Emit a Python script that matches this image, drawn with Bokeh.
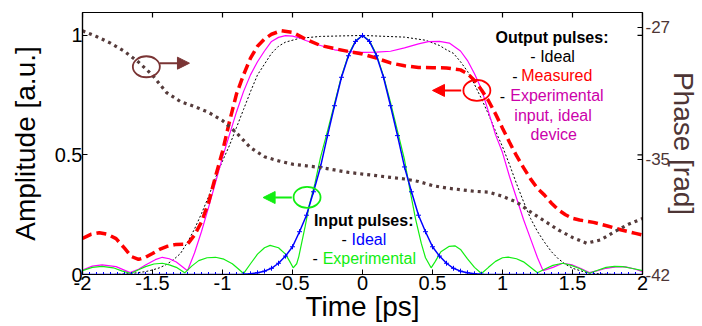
import math
from bokeh.plotting import figure
from bokeh.models import Range1d, LinearAxis, FixedTicker, Label, Arrow, NormalHead
from bokeh.embed import file_html
from bokeh.resources import INLINE

FONT = "Liberation Sans"

# ---------------- data ----------------
# ideal input pulse, sampled every 0.05 ps from -2 to 2
input_t = [round(-2 + 0.05 * i, 2) for i in range(81)]
input_ideal = [0.0] * 23 + [
    0.001, 0.003, 0.007, 0.014, 0.026, 0.047, 0.077, 0.116, 0.179, 0.248,
    0.346, 0.45, 0.581, 0.706, 0.825, 0.915, 0.975, 1.0,
    0.975, 0.915, 0.825, 0.706, 0.581, 0.45, 0.346, 0.248, 0.179, 0.116,
    0.077, 0.047, 0.026, 0.014, 0.007, 0.003, 0.001] + [0.0] * 23

# experimental input pulse
exp_in_t = [-2.0, -1.93, -1.86, -1.78, -1.72, -1.655, -1.6, -1.55, -1.49, -1.43,
            -1.38, -1.33, -1.27, -1.22, -1.17, -1.11, -1.05, -0.99, -0.93, -0.89,
            -0.85, -0.8, -0.75, -0.7, -0.66, -0.6, -0.55, -0.52, -0.495, -0.47,
            -0.455, -0.41, -0.38, -0.34, -0.3, -0.25, -0.2, -0.15, -0.1, -0.05,
            0.0, 0.05, 0.1, 0.15, 0.2, 0.25, 0.3, 0.34, 0.38, 0.42,
            0.45, 0.49, 0.52, 0.56, 0.62, 0.66, 0.7, 0.75, 0.8, 0.85,
            0.9, 0.95, 1.0, 1.04, 1.1, 1.15, 1.2, 1.25, 1.3, 1.36,
            1.43, 1.49, 1.55, 1.62, 1.68, 1.74, 1.8, 1.86, 1.93, 2.0]
exp_in_amp = [0.016, 0.03, 0.034, 0.028, 0.015, 0.004, 0.02, 0.033, 0.044, 0.047,
              0.04, 0.03, 0.007, 0.035, 0.058, 0.07, 0.072, 0.064, 0.045, 0.025,
              0.004, 0.045, 0.085, 0.112, 0.122, 0.112, 0.085, 0.055, 0.028, 0.045,
              0.075, 0.2, 0.29, 0.38, 0.49, 0.6, 0.715, 0.83, 0.92, 0.978,
              1.0, 0.978, 0.92, 0.83, 0.72, 0.6, 0.48, 0.35, 0.23, 0.13,
              0.07, 0.028, 0.055, 0.095, 0.118, 0.12, 0.105, 0.065, 0.03, 0.004,
              0.03, 0.055, 0.07, 0.073, 0.066, 0.053, 0.03, 0.007, 0.022, 0.038,
              0.047, 0.038, 0.025, 0.005, 0.018, 0.03, 0.034, 0.033, 0.025, 0.016]

# ideal output pulse
out_ideal_t = [-2.0, -1.8, -1.7, -1.64, -1.55, -1.5, -1.45, -1.4, -1.35, -1.3,
               -1.25, -1.2, -1.15, -1.1, -1.05, -1.0, -0.95, -0.9, -0.85, -0.8,
               -0.75, -0.7, -0.65, -0.6, -0.55, -0.45, -0.3, 0.0, 0.3, 0.45,
               0.55, 0.6, 0.65, 0.7, 0.75, 0.8, 0.85, 0.9, 0.95, 1.0,
               1.05, 1.1, 1.15, 1.2, 1.25, 1.3, 1.35, 1.4, 1.45, 1.5,
               1.6, 1.7, 1.8, 2.0]
out_ideal_amp = [0.0, 0.0, 0.002, 0.005, 0.012, 0.019, 0.028, 0.042, 0.062, 0.088,
                 0.135, 0.19, 0.255, 0.325, 0.405, 0.475, 0.54, 0.615, 0.69, 0.765,
                 0.835, 0.88, 0.925, 0.955, 0.972, 0.988, 0.996, 1.0, 0.993, 0.98,
                 0.958, 0.94, 0.925, 0.89, 0.85, 0.795, 0.735, 0.67, 0.6, 0.535,
                 0.46, 0.38, 0.305, 0.235, 0.18, 0.135, 0.095, 0.065, 0.043, 0.026,
                 0.008, 0.002, 0.0, 0.0]

# measured output pulse
measured_t = [-2.0, -1.94, -1.88, -1.82, -1.76, -1.7, -1.65, -1.6, -1.55, -1.5,
              -1.45, -1.4, -1.33, -1.25, -1.2, -1.15, -1.1, -1.05, -1.0, -0.95,
              -0.9, -0.85, -0.8, -0.75, -0.7, -0.65, -0.58, -0.5, -0.4, -0.3,
              -0.2, -0.1, 0.0, 0.1, 0.2, 0.3, 0.4, 0.5, 0.6, 0.7,
              0.75, 0.8, 0.85, 0.9, 0.95, 1.0, 1.05, 1.1, 1.15, 1.2,
              1.25, 1.3, 1.35, 1.4, 1.45, 1.5, 1.55, 1.65, 1.75, 1.85,
              1.95, 2.0]
measured_amp = [0.151, 0.168, 0.175, 0.168, 0.15, 0.11, 0.075, 0.063, 0.072, 0.088,
                0.105, 0.117, 0.126, 0.127, 0.165, 0.22, 0.3, 0.41, 0.515, 0.64,
                0.755, 0.835, 0.905, 0.955, 0.985, 1.005, 1.02, 1.013, 0.983, 0.958,
                0.945, 0.933, 0.922, 0.905, 0.885, 0.873, 0.866, 0.865, 0.864, 0.856,
                0.84, 0.812, 0.772, 0.727, 0.672, 0.612, 0.553, 0.497, 0.447, 0.4,
                0.36, 0.332, 0.298, 0.27, 0.25, 0.235, 0.228, 0.218, 0.203, 0.186,
                0.172, 0.165]

# output for experimental input through ideal device
exp_dev_t = [-2.0, -1.93, -1.86, -1.76, -1.66, -1.6, -1.55, -1.48, -1.43, -1.38,
             -1.33, -1.25, -1.2, -1.15, -1.1, -1.05, -1.0, -0.95, -0.9, -0.85,
             -0.8, -0.75, -0.7, -0.65, -0.6, -0.55, -0.5, -0.45, -0.4, -0.3,
             -0.2, -0.1, 0.0, 0.1, 0.2, 0.3, 0.4, 0.47, 0.55, 0.62,
             0.7, 0.75, 0.8, 0.85, 0.9, 0.95, 1.0, 1.05, 1.1, 1.15,
             1.2, 1.25, 1.29, 1.36, 1.43, 1.5, 1.56, 1.62, 1.68, 1.74,
             1.82, 1.88, 1.95, 2.0]
exp_dev_amp = [0.019, 0.035, 0.04, 0.033, 0.008, 0.022, 0.04, 0.062, 0.072, 0.066,
               0.052, 0.016, 0.09, 0.18, 0.28, 0.385, 0.49, 0.585, 0.68, 0.765,
               0.835, 0.89, 0.935, 0.975, 0.992, 0.999, 0.997, 0.99, 0.978, 0.958,
               0.94, 0.932, 0.929, 0.93, 0.934, 0.948, 0.965, 0.974, 0.975, 0.968,
               0.935, 0.895, 0.84, 0.775, 0.68, 0.585, 0.51, 0.41, 0.32, 0.23,
               0.15, 0.07, 0.016, 0.03, 0.047, 0.04, 0.025, 0.008, 0.016, 0.026,
               0.033, 0.032, 0.022, 0.012]

# measured output phase (right axis), every 0.1 ps
phase_t = [round(-2 + 0.1 * i, 1) for i in range(41)]
phase_rad = [-27.2, -27.55, -27.95, -28.45, -29.1, -29.9, -30.95, -31.5, -31.8, -32.15,
             -32.65, -33.4, -34.3, -34.85, -35.1, -35.3, -35.4, -35.5, -35.65, -35.8,
             -35.9, -36.0, -36.1, -36.2, -36.35, -36.6, -36.75, -36.85, -36.95, -37.0,
             -37.25, -37.6, -38.2, -38.75, -39.3, -39.75, -40.1, -39.9, -39.4, -38.95,
             -38.6]

x_ticks = [-2, -1.5, -1, -0.5, 0, 0.5, 1, 1.5, 2]
x_tick_labels = ["-2", "-1.5", "-1", "-0.5", "0", "0.5", "1", "1.5", "2"]
amp_ticks = [0, 0.5, 1]
amp_tick_labels = ["0", "0.5", "1"]
phase_ticks = [-42, -35, -27]
phase_tick_labels = ["-42", "-35", "-27"]

X_MIN, X_MAX = -2, 2
AMP_MIN, AMP_MAX = 0, 1.096
PHASE_MIN, PHASE_MAX = -42, -26.09

BROWN = "#553b3b"
BROWN_MARK = "#7a3434"
AXIS_BROWN = "#4d3535"
MAGENTA = "#ff00ff"
MAGENTA_TXT = "#cc00aa"
GREEN = "#11ee11"

# ---------------- figure ----------------
p = figure(width=702, height=326, x_range=Range1d(X_MIN, X_MAX), y_range=Range1d(AMP_MIN, AMP_MAX),
           output_backend="svg", toolbar_location=None,
           min_border_left=82, min_border_right=58, min_border_top=12, min_border_bottom=52)
p.extra_y_ranges = {"phase": Range1d(PHASE_MIN, PHASE_MAX)}
p.xgrid.visible = False
p.ygrid.visible = False
p.outline_line_color = "black"
p.outline_line_width = 1.2
p.background_fill_color = "white"
p.border_fill_color = "white"

def style_axis(ax, ticks, labels, color="black"):
    ax.ticker = FixedTicker(ticks=ticks)
    ax.major_label_overrides = {t: l for t, l in zip(ticks, labels)}
    ax.major_tick_in = 5
    ax.major_tick_out = 0
    ax.minor_tick_line_color = None
    ax.axis_line_color = "black"
    ax.axis_line_width = 1.2
    ax.major_tick_line_color = "black"
    ax.major_label_text_font = FONT
    ax.major_label_text_color = color
    ax.axis_label_text_font = FONT
    ax.axis_label_text_font_style = "normal"
    ax.axis_label_text_color = color

xa = p.xaxis[0]
style_axis(xa, x_ticks, x_tick_labels)
xa.major_label_text_font_size = "20px"
xa.major_label_standoff = 1
xa.axis_label = "Time [ps]"
xa.axis_label_text_font_size = "28px"
xa.axis_label_standoff = -2

ya = p.yaxis[0]
style_axis(ya, amp_ticks, amp_tick_labels)
ya.major_label_text_font_size = "20px"
ya.major_label_standoff = 0
ya.axis_label = "Amplitude [a.u.]"
ya.axis_label_text_font_size = "28px"
ya.axis_label_standoff = 11

ph = LinearAxis(y_range_name="phase")
style_axis(ph, phase_ticks, phase_tick_labels, AXIS_BROWN)
ph.major_label_text_font_size = "17px"
ph.major_label_standoff = 3
ph.axis_label = "Phase [rad]"
ph.axis_label_text_font_size = "28px"
ph.axis_label_standoff = -5
p.add_layout(ph, "right")

# mirrored inward ticks on the top and right frame edges
p.scatter(x_ticks, [AMP_MAX] * len(x_ticks), marker="dash", size=10, angle=math.pi / 2,
          line_color="black", line_width=1.2)
p.scatter([X_MAX] * len(amp_ticks), amp_ticks, marker="dash", size=10,
          line_color="black", line_width=1.2)

# ---------------- curves ----------------
p.line(out_ideal_t, out_ideal_amp, line_color="black", line_width=1, line_dash="2 2")
p.line(exp_dev_t, exp_dev_amp, line_color=MAGENTA, line_width=1.2)
p.line(measured_t, measured_amp, line_color="#ff0000", line_width=3.5, line_dash="10 5")
p.line(exp_in_t, exp_in_amp, line_color=GREEN, line_width=1.2)
p.line(input_t, input_ideal, line_color="#0000ff", line_width=1.5)
p.scatter(input_t, input_ideal, marker="cross", size=5, line_color="#0000ff", line_width=1)
p.line(phase_t, phase_rad, y_range_name="phase", line_color=BROWN, line_width=3.2,
       line_dash="3 4")

# ---------------- ellipses & arrows ----------------
ell_x = [-1.544, 0.817, -0.396]
ell_y = [0.869, 0.770, 0.323]
ell_c = [BROWN_MARK, "#ff0000", GREEN]
p.ellipse(x=ell_x, y=ell_y, width=27, height=21, width_units="screen", height_units="screen",
          fill_alpha=0, line_color=ell_c, line_width=1.8)

arrows = [(-1.449, 0.884, -1.236, 0.884, BROWN_MARK),
          (0.705, 0.770, 0.50, 0.770, "#ff0000"),
          (-0.505, 0.322, -0.71, 0.322, GREEN)]
for xs, ys, xe, ye, c in arrows:
    p.add_layout(Arrow(end=NormalHead(size=12, fill_color=c, line_color=c, line_width=1),
                       x_start=xs, y_start=ys, x_end=xe, y_end=ye,
                       line_color=c, line_width=2))

# ---------------- legend texts ----------------
def txt(x, y, s, color="black", align="left", bold=False):
    p.add_layout(Label(x=x, y=y, text=s, text_color=color, text_align=align,
                       text_baseline="middle", text_font=FONT, text_font_size="16px",
                       text_font_style="bold" if bold else "normal"))

txt(1.3537, 0.9916, "Output pulses:", align="center", bold=True)
txt(1.198, 0.9123, "-")
txt(1.269, 0.9123, "Ideal")
txt(1.070, 0.8317, "-")
txt(1.134, 0.8317, "Measured", "#ff0000")
txt(0.980, 0.7482, "-")
txt(1.0555, 0.7482, "Experimental", MAGENTA_TXT)
txt(1.361, 0.6647, "input, ideal", MAGENTA_TXT, align="center")
txt(1.366, 0.5837, "device", MAGENTA_TXT, align="center")

txt(0.0085, 0.2246, "Input pulses:", align="center", bold=True)
txt(-0.1495, 0.147, "-")
txt(-0.0783, 0.147, "Ideal", "#0000ff")
txt(-0.358, 0.0677, "-")
txt(-0.2847, 0.0677, "Experimental", GREEN)

open("out.html", "w").write(file_html(p, INLINE))
